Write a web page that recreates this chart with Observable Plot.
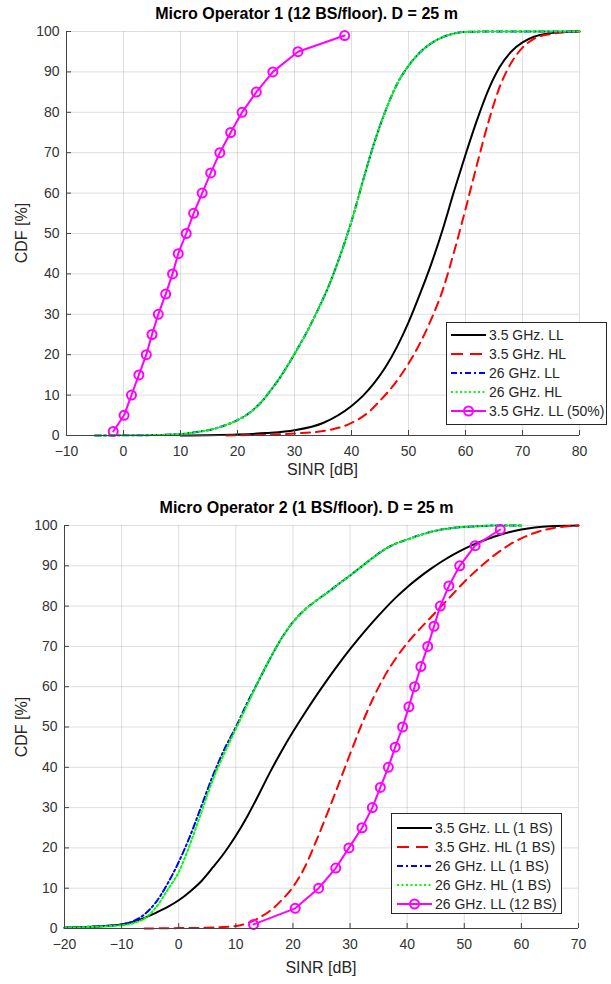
<!DOCTYPE html>
<html>
<head>
<meta charset="utf-8">
<script src="https://cdn.jsdelivr.net/npm/d3@7"></script>
<script src="https://cdn.jsdelivr.net/npm/@observablehq/plot@0.6"></script>
<style>
  body { margin: 0; background: #fff; }
  #root { position: relative; width: 611px; height: 984px; font-family: "Liberation Sans", Arial, Helvetica, sans-serif; color: #262626; }
  .title { position: absolute; text-align: center; font-weight: bold; font-size: 16px; line-height: 18px; color: #000; white-space: nowrap; }
  .xlabel { position: absolute; text-align: center; font-size: 16px; line-height: 18px; color: #262626; }
  .ylabel { position: absolute; font-size: 16px; line-height: 18px; color: #262626; transform: rotate(-90deg); transform-origin: center; white-space: nowrap; text-align: center; width: 100px; }
  .legend { position: absolute; background: #fff; border: 1px solid #262626; box-sizing: border-box; font-size: 14px; color: #262626; }
  .legend .row { position: absolute; left: 0; height: 18px; display: flex; align-items: center; white-space: nowrap; }
  .legend svg { display: block; }
</style>
</head>
<body>
<div id="root"></div>
<script>
// ---------- shared ticks ----------
const cdfTicks = [0, 10, 20, 30, 40, 50, 60, 70, 80, 90, 100];
const op1Ticks = [-10, 0, 10, 20, 30, 40, 50, 60, 70, 80];
const op2Ticks = [-20, -10, 0, 10, 20, 30, 40, 50, 60, 70];
const magentaCdf = [1, 5, 10, 15, 20, 25, 30, 35, 40, 45, 50, 55, 60, 65, 70, 75, 80, 85, 90, 95, 99];

// ---------- Micro Operator 1 ----------
const op1Title = "Micro Operator 1 (12 BS/floor). D = 25 m";
const op1Labels = ["3.5 GHz. LL", "3.5 GHz. HL", "26 GHz. LL", "26 GHz. HL", "3.5 GHz. LL (50%)"];

const op1_x_35LL = [10, 20, 25, 30, 35, 40, 42, 44, 46, 48, 50, 52, 54, 56, 58, 60, 62, 64, 66, 68, 70, 72, 75, 78, 80];
const op1_y_35LL = [0, 0.25, 0.6, 1.3, 3.1, 7.3, 9.8, 13, 17, 22, 28, 35, 42.5, 51, 60.5, 69.5, 78, 85.5, 91.2, 95, 97.3, 98.7, 99.6, 99.95, 100];

const op1_x_35HL = [18, 25, 30, 35, 40, 43, 45, 48, 50, 52, 54, 56, 58, 60, 62, 64, 66, 68, 70, 72, 75, 78, 80];
const op1_y_35HL = [0, 0.2, 0.5, 1.1, 3.1, 5.8, 8.6, 13.6, 17.8, 22.8, 28.8, 36, 45.5, 56, 67, 77.5, 86.3, 92.2, 96, 98.2, 99.4, 99.9, 100];

const op1_x_26LL = [-5, 0, 5, 10, 12, 14, 16, 18, 20, 22, 24, 26, 28, 30, 32, 34, 36, 38, 40, 42, 44, 46, 48, 50, 52, 54, 56, 58, 60, 65, 80];
const op1_y_26LL = [0, 0.05, 0.1, 0.35, 0.7, 1.1, 1.7, 2.6, 3.8, 5.5, 8, 11.5, 15.5, 20.2, 25.2, 30.8, 37, 44.5, 53, 63, 72.5, 80.5, 87, 91.5, 94.8, 97.1, 98.6, 99.5, 99.9, 100, 100];

const op1_x_26HL = [-5, 0, 5, 10, 12, 14, 16, 18, 20, 22, 24, 26, 28, 30, 32, 34, 36, 38, 40, 42, 44, 46, 48, 50, 52, 54, 56, 58, 60, 65, 80];
const op1_y_26HL = [0, 0.05, 0.1, 0.35, 0.7, 1.1, 1.7, 2.6, 3.8, 5.5, 8, 11.5, 15.5, 20.2, 25.2, 30.8, 37, 44.5, 53, 63, 72.5, 80.5, 87, 91.5, 94.8, 97.1, 98.6, 99.5, 99.9, 100, 100];

const op1_x_mag = [-1.8, 0.1, 1.4, 2.7, 4.0, 5.0, 6.1, 7.4, 8.6, 9.6, 11.0, 12.3, 13.8, 15.3, 16.9, 18.8, 20.8, 23.3, 26.2, 30.6, 38.8];

// ---------- Micro Operator 2 ----------
const op2Title = "Micro Operator 2 (1 BS/floor). D = 25 m";
const op2Labels = ["3.5 GHz. LL (1 BS)", "3.5 GHz. HL (1 BS)", "26 GHz. LL (1 BS)", "26 GHz. HL (1 BS)", "26 GHz. LL (12 BS)"];

const op2_x_35LL = [-20, -15, -10, -8, -6, -4, -2, 0, 2, 4, 6, 8, 10, 12, 14, 16, 18, 20, 22, 24, 26, 28, 30, 32, 34, 36, 38, 40, 42, 44, 46, 48, 50, 52, 54, 56, 58, 60, 65, 70];
const op2_y_35LL = [0.2, 0.45, 1, 1.6, 2.6, 3.9, 5.3, 7, 9.2, 11.8, 15.2, 18.8, 23, 27.8, 33.2, 38.8, 44, 48.8, 53.3, 57.6, 61.7, 65.6, 69.3, 72.8, 76.1, 79.2, 82.1, 84.7, 87, 89.1, 91, 92.7, 94.2, 95.5, 96.6, 97.6, 98.4, 99, 99.8, 100];

const op2_x_35HL = [-6, 0, 5, 10, 12, 14, 16, 18, 20, 22, 24, 26, 28, 30, 32, 34, 36, 38, 40, 42, 44, 46, 48, 50, 52, 54, 56, 58, 60, 62, 65, 70];
const op2_y_35HL = [0, 0.1, 0.2, 0.6, 1.3, 2.6, 4.4, 7, 10.3, 15, 21.5, 28.5, 35.8, 43.3, 50.5, 57, 62.5, 67, 70.8, 74, 77, 80, 83, 86, 88.7, 91.2, 93.4, 95.3, 96.8, 98, 99.2, 100];

const op2_x_26LL = [-20, -15, -10, -8, -6, -4, -2, 0, 2, 4, 6, 8, 10, 12, 14, 16, 18, 20, 22, 24, 26, 28, 30, 32, 34, 36, 38, 40, 42, 45, 48, 52, 56, 60];
const op2_y_26LL = [0.2, 0.5, 1, 1.8, 3.5, 6.5, 11, 16.5, 23, 30.5, 38, 44.5, 50, 56, 61.5, 67, 72, 76, 79, 81.3, 83.3, 85.5, 87.6, 89.8, 92, 94, 95.5, 96.5, 97.5, 98.7, 99.4, 99.8, 100, 100];

const op2_x_26HL = [-20, -15, -10, -8, -6, -4, -2, 0, 2, 4, 6, 8, 10, 12, 14, 16, 18, 20, 22, 24, 26, 28, 30, 32, 34, 36, 38, 40, 42, 45, 48, 52, 56, 60];
const op2_y_26HL = [0.2, 0.4, 0.8, 1.3, 2.5, 5.2, 9.5, 14, 21, 29, 37, 43.5, 49.5, 55.5, 61.5, 67, 72, 76, 79, 81.3, 83.3, 85.5, 87.6, 89.8, 92, 94, 95.5, 96.5, 97.5, 98.7, 99.4, 99.8, 100, 100];

const op2_x_mag = [13.1, 20.4, 24.5, 27.5, 29.8, 32.1, 33.9, 35.3, 36.7, 37.9, 39.2, 40.3, 41.3, 42.4, 43.6, 44.7, 45.8, 47.3, 49.2, 51.9, 56.3];

// ---------- styles ----------
const styles = [
  {stroke: "#000000", dash: null},
  {stroke: "#ff0000", dash: "9,6"},
  {stroke: "#0000ff", dash: "6,3,2,3"},
  {stroke: "#00ff00", dash: "2,2.5"},
  {stroke: "#ff00ff", dash: null}
];

const zip = (xs, ys) => xs.map((x, i) => ({x, y: ys[i]}));

function makeChart(cfg) {
  const {xTicks, series, magX, width, height, margins} = cfg;
  const xmin = xTicks[0];
  const xmax = xTicks[xTicks.length - 1];
  const mag = zip(magX, magentaCdf);
  const pxPerX = (width - margins.left - margins.right) / (xmax - xmin);
  const pxPerY = (height - margins.top - margins.bottom) / 100;
  const lineMarks = series.map((s, i) => Plot.line(zip(s[0], s[1]), {
    x: "x", y: "y", curve: "monotone-x",
    stroke: styles[i].stroke, strokeWidth: 2,
    strokeDasharray: styles[i].dash || undefined
  }));
  return Plot.plot({
    width, height,
    marginLeft: margins.left, marginRight: margins.right,
    marginTop: margins.top, marginBottom: margins.bottom,
    style: {fontFamily: "'Liberation Sans', Arial, Helvetica, sans-serif", background: "#fff", overflow: "visible"},
    x: {domain: [xmin, xmax]},
    y: {domain: [0, 100]},
    marks: [
      Plot.gridX(xTicks, {stroke: "#262626", strokeOpacity: 0.15}),
      Plot.gridY(cdfTicks, {stroke: "#262626", strokeOpacity: 0.15}),
      ...lineMarks,
      Plot.line(mag, {x: "x", y: "y", stroke: styles[4].stroke, strokeWidth: 2}),
      Plot.dot(mag, {x: "x", y: "y", r: 4.5, stroke: styles[4].stroke, strokeWidth: 2, fill: "none"}),
      Plot.ruleX([xmin], {stroke: "#444", strokeWidth: 1}),
      Plot.ruleY([0], {stroke: "#444", strokeWidth: 1}),
      Plot.ruleX(xTicks, {y1: 0, y2: 5 / pxPerY, stroke: "#444"}),
      Plot.ruleY(cdfTicks, {x1: xmin, x2: xmin + 5 / pxPerX, stroke: "#444"}),
      Plot.axisX(xTicks, {tickSize: 0, tickPadding: 11, fontSize: 14, color: "#333", label: null}),
      Plot.axisY(cdfTicks, {tickSize: 0, tickPadding: 7, fontSize: 14, color: "#333", label: null})
    ]
  });
}

function addDiv(cls, text, css) {
  const d = document.createElement("div");
  d.className = cls;
  d.textContent = text;
  Object.assign(d.style, css);
  root.appendChild(d);
  return d;
}

function addLegend(labels, box, rowTop, rowStep, swLeft, swWidth, textLeft) {
  const lg = document.createElement("div");
  lg.className = "legend";
  Object.assign(lg.style, {left: box.left + "px", top: box.top + "px", width: box.width + "px", height: box.height + "px"});
  labels.forEach((lab, i) => {
    const row = document.createElement("div");
    row.className = "row";
    row.style.top = (rowTop + i * rowStep - 9) + "px";
    row.style.left = swLeft + "px";
    const s = styles[i];
    const ns = "http://www.w3.org/2000/svg";
    const sv = document.createElementNS(ns, "svg");
    sv.setAttribute("width", swWidth);
    sv.setAttribute("height", 18);
    const ln = document.createElementNS(ns, "line");
    ln.setAttribute("x1", 0); ln.setAttribute("x2", swWidth);
    ln.setAttribute("y1", 9); ln.setAttribute("y2", 9);
    ln.setAttribute("stroke", s.stroke); ln.setAttribute("stroke-width", 2);
    if (s.dash) ln.setAttribute("stroke-dasharray", i === 1 ? "12,7" : s.dash);
    sv.appendChild(ln);
    if (i === 4) {
      const c = document.createElementNS(ns, "circle");
      c.setAttribute("cx", swWidth / 2); c.setAttribute("cy", 9); c.setAttribute("r", 4.5);
      c.setAttribute("fill", "none"); c.setAttribute("stroke", s.stroke); c.setAttribute("stroke-width", 2);
      sv.appendChild(c);
    }
    row.appendChild(sv);
    const t = document.createElement("span");
    t.textContent = lab;
    t.style.marginLeft = (textLeft - swLeft - swWidth) + "px";
    row.appendChild(t);
    lg.appendChild(row);
  });
  root.appendChild(lg);
}

const root = document.getElementById("root");

// Chart 1
const m1 = {left: 66, right: 32, top: 31, bottom: 55};
const c1 = makeChart({
  xTicks: op1Ticks,
  series: [[op1_x_35LL, op1_y_35LL], [op1_x_35HL, op1_y_35HL], [op1_x_26LL, op1_y_26LL], [op1_x_26HL, op1_y_26HL]],
  magX: op1_x_mag, width: 611, height: 490, margins: m1
});
Object.assign(c1.style, {position: "absolute", left: "0px", top: "0px"});
root.appendChild(c1);

// Chart 2
const m2 = {left: 64, right: 33, top: 33, bottom: 56};
const c2 = makeChart({
  xTicks: op2Ticks,
  series: [[op2_x_35LL, op2_y_35LL], [op2_x_35HL, op2_y_35HL], [op2_x_26LL, op2_y_26LL], [op2_x_26HL, op2_y_26HL]],
  magX: op2_x_mag, width: 611, height: 492, margins: m2
});
Object.assign(c2.style, {position: "absolute", left: "0px", top: "492px"});
root.appendChild(c2);

// Titles and labels
addDiv("title", op1Title, {left: "0px", width: "613px", top: "5px"});
addDiv("title", op2Title, {left: "0px", width: "613px", top: "499px"});
addDiv("xlabel", "SINR [dB]", {left: "66px", width: "513px", top: "461px"});
addDiv("xlabel", "SINR [dB]", {left: "64px", width: "514px", top: "959px"});
addDiv("ylabel", "CDF [%]", {left: "-28px", top: "224px"});
addDiv("ylabel", "CDF [%]", {left: "-28px", top: "718px"});

// Legends
addLegend(op1Labels, {left: 446, top: 322, width: 161, height: 103}, 12, 19, 4, 35, 42);
addLegend(op2Labels, {left: 391, top: 813, width: 171, height: 101}, 13.5, 19.2, 5, 35, 43);
</script>
</body>
</html>
